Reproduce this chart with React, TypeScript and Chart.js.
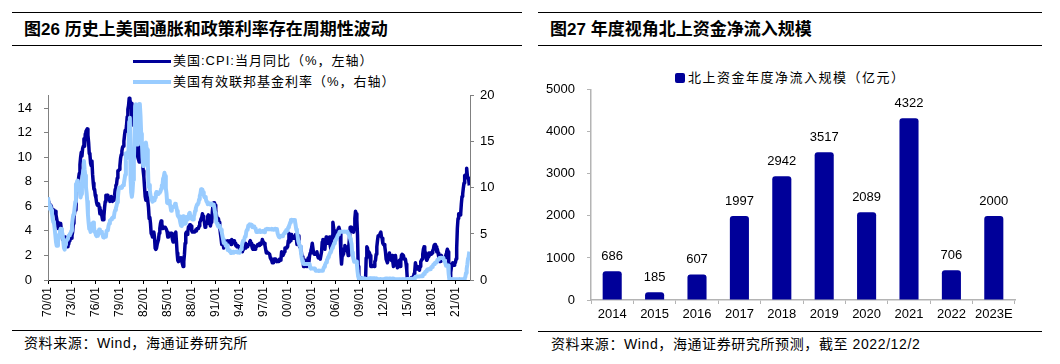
import React, { useEffect, useRef } from 'react';
import { Chart, registerables } from 'chart.js';

Chart.register(...registerables);

// ---------------- Left chart data (monthly, 1970/01 – 2022/10) ----------------
const cpi1970s = [
  6.2, 6.4, 6.1, 6.1, 6.1, 6.0, 6.0, 5.4, 5.7, 5.6, 5.6, 5.6,
  5.3, 5.0, 4.7, 4.2, 4.4, 4.6, 4.4, 4.6, 4.1, 3.8, 3.3, 3.3,
  3.3, 3.5, 3.5, 3.5, 3.2, 2.7, 2.9, 2.9, 3.2, 3.4, 3.4, 3.4,
  3.6, 3.9, 4.6, 5.1, 5.5, 6.0, 5.7, 7.4, 7.4, 7.8, 8.3, 8.7,
  9.4, 10.0, 10.4, 10.1, 10.7, 10.9, 11.5, 10.9, 11.9, 12.1, 12.2, 12.3,
  11.8, 11.2, 10.3, 10.2, 9.5, 9.3, 9.7, 8.6, 7.9, 7.4, 7.4, 6.9,
  6.7, 6.3, 6.1, 6.1, 6.2, 5.9, 5.4, 5.7, 5.5, 5.5, 4.9, 4.9,
  5.2, 5.9, 6.4, 6.9, 6.7, 6.9, 6.8, 6.6, 6.6, 6.4, 6.7, 6.8,
  6.8, 6.4, 6.6, 6.5, 6.9, 7.4, 7.7, 7.8, 8.3, 8.9, 8.9, 9.0,
  9.3, 9.9, 10.2, 10.5, 10.8, 10.9, 11.3, 11.8, 12.2, 12.1, 12.6, 13.3,
];
const cpi1980s = [
  13.9, 14.2, 14.8, 14.7, 14.4, 14.4, 13.1, 12.9, 12.6, 12.8, 12.6, 12.5,
  11.8, 11.4, 10.5, 10.0, 9.8, 9.6, 10.8, 10.8, 11.0, 10.1, 9.6, 8.9,
  8.4, 7.6, 6.8, 6.5, 6.7, 7.1, 6.4, 5.9, 5.0, 5.1, 4.6, 3.8,
  3.7, 3.5, 3.6, 3.9, 3.5, 2.6, 2.5, 2.6, 2.9, 2.9, 3.3, 3.8,
  4.2, 4.6, 4.8, 4.6, 4.2, 4.2, 4.2, 4.3, 4.3, 4.3, 4.1, 3.9,
  3.5, 3.5, 3.7, 3.7, 3.8, 3.8, 3.6, 3.3, 3.1, 3.2, 3.5, 3.8,
  3.9, 3.1, 2.2, 1.6, 1.5, 1.8, 1.6, 1.6, 1.8, 1.5, 1.3, 1.1,
  1.5, 2.1, 3.0, 3.8, 3.9, 3.7, 3.9, 4.3, 4.4, 4.5, 4.5, 4.4,
  4.0, 3.9, 3.9, 3.9, 3.9, 4.0, 4.1, 4.0, 4.2, 4.2, 4.2, 4.4,
  4.7, 4.8, 5.0, 5.1, 5.4, 5.2, 5.0, 4.7, 4.3, 4.5, 4.7, 4.6,
];
const cpi1990s = [
  5.2, 5.3, 5.2, 4.7, 4.4, 4.7, 4.8, 5.6, 6.2, 6.3, 6.3, 6.1,
  5.7, 5.3, 4.9, 4.9, 5.0, 4.7, 4.4, 3.8, 3.4, 2.9, 3.0, 3.1,
  2.6, 2.8, 3.2, 3.2, 3.0, 3.1, 3.2, 3.1, 3.0, 3.2, 3.0, 2.9,
  3.3, 3.2, 3.1, 3.2, 3.2, 3.0, 2.8, 2.8, 2.7, 2.8, 2.7, 2.7,
  2.5, 2.5, 2.5, 2.4, 2.3, 2.5, 2.8, 2.9, 3.0, 2.6, 2.7, 2.7,
  2.8, 2.9, 2.9, 3.1, 3.2, 3.0, 2.8, 2.6, 2.5, 2.8, 2.6, 2.5,
  2.7, 2.7, 2.8, 2.9, 2.9, 2.8, 3.0, 2.9, 3.0, 3.0, 3.3, 3.3,
  3.0, 3.0, 2.8, 2.5, 2.2, 2.3, 2.2, 2.2, 2.2, 2.1, 1.8, 1.7,
  1.6, 1.4, 1.4, 1.4, 1.7, 1.7, 1.7, 1.6, 1.5, 1.5, 1.5, 1.6,
  1.7, 1.6, 1.7, 2.3, 2.1, 2.0, 2.1, 2.3, 2.6, 2.6, 2.6, 2.7,
];
const cpi2000s = [
  2.7, 3.2, 3.8, 3.1, 3.2, 3.7, 3.7, 3.4, 3.5, 3.4, 3.4, 3.4,
  3.7, 3.5, 2.9, 3.3, 3.6, 3.2, 2.7, 2.7, 2.6, 2.1, 1.9, 1.6,
  1.1, 1.1, 1.5, 1.6, 1.2, 1.1, 1.5, 1.8, 1.5, 2.0, 2.2, 2.4,
  2.6, 3.0, 3.0, 2.2, 2.1, 2.1, 2.1, 2.2, 2.3, 2.0, 1.8, 1.9,
  1.9, 1.7, 1.7, 2.3, 3.1, 3.3, 3.0, 2.7, 2.5, 3.2, 3.5, 3.3,
  3.0, 3.0, 3.1, 3.5, 2.8, 2.5, 3.2, 3.6, 4.7, 4.3, 3.5, 3.4,
  4.0, 3.6, 3.4, 3.5, 4.2, 4.3, 4.1, 3.8, 2.1, 1.3, 2.0, 2.5,
  2.1, 2.4, 2.8, 2.6, 2.7, 2.7, 2.4, 2.0, 2.8, 3.5, 4.3, 4.1,
  4.3, 4.0, 4.0, 3.9, 4.2, 5.0, 5.6, 5.4, 4.9, 3.7, 1.1, 0.1,
  0.0, 0.2, -0.4, -0.7, -1.3, -1.4, -2.1, -1.5, -1.3, -0.2, 1.8, 2.7,
];
const cpi2010s = [
  2.6, 2.1, 2.3, 2.2, 2.0, 1.1, 1.2, 1.1, 1.1, 1.2, 1.1, 1.5,
  1.6, 2.1, 2.7, 3.2, 3.6, 3.6, 3.6, 3.8, 3.9, 3.5, 3.4, 3.0,
  2.9, 2.9, 2.7, 2.3, 1.7, 1.7, 1.4, 1.7, 2.0, 2.2, 1.8, 1.7,
  1.6, 2.0, 1.5, 1.1, 1.4, 1.8, 2.0, 1.5, 1.2, 1.0, 1.2, 1.5,
  1.6, 1.1, 1.5, 2.0, 2.1, 2.1, 2.0, 1.7, 1.7, 1.7, 1.3, 0.8,
  -0.1, 0.0, -0.1, -0.2, 0.0, 0.1, 0.2, 0.2, 0.0, 0.2, 0.5, 0.7,
  1.4, 1.0, 0.9, 1.1, 1.0, 1.0, 0.8, 1.1, 1.5, 1.6, 1.7, 2.1,
  2.5, 2.7, 2.4, 2.2, 1.9, 1.6, 1.7, 1.9, 2.2, 2.0, 2.2, 2.1,
  2.1, 2.2, 2.4, 2.5, 2.8, 2.9, 2.9, 2.7, 2.3, 2.5, 2.2, 1.9,
  1.6, 1.5, 1.9, 2.0, 1.8, 1.6, 1.8, 1.7, 1.7, 1.8, 2.1, 2.3,
];
const cpi2020s = [
  2.5, 2.3, 1.5, 0.3, 0.1, 0.6, 1.0, 1.3, 1.4, 1.2, 1.2, 1.4,
  1.4, 1.7, 2.6, 4.2, 5.0, 5.4, 5.4, 5.3, 5.4, 6.2, 6.8, 7.0,
  7.5, 7.9, 8.5, 8.3, 8.6, 9.1, 8.5, 8.3, 8.2, 7.7,
];

const ffr1970s = [
  8.98, 8.98, 7.76, 8.10, 7.94, 7.60, 7.21, 6.61, 6.29, 6.20, 5.60, 4.90,
  4.14, 3.72, 3.71, 4.16, 4.63, 4.91, 5.31, 5.56, 5.55, 5.20, 4.91, 4.14,
  3.50, 3.29, 3.83, 4.17, 4.27, 4.46, 4.55, 4.80, 4.87, 5.04, 5.06, 5.33,
  5.94, 6.58, 7.09, 7.12, 7.84, 8.49, 10.40, 10.50, 10.78, 10.01, 10.03, 9.95,
  9.65, 8.97, 9.35, 10.51, 11.31, 11.93, 12.92, 12.01, 11.34, 10.06, 9.45, 8.53,
  7.13, 6.24, 5.54, 5.49, 5.22, 5.55, 6.10, 6.14, 6.24, 5.82, 5.22, 5.20,
  4.87, 4.77, 4.84, 4.82, 5.29, 5.48, 5.31, 5.29, 5.25, 5.02, 4.95, 4.65,
  4.61, 4.68, 4.69, 4.73, 5.35, 5.39, 5.42, 5.90, 6.14, 6.47, 6.51, 6.56,
  6.70, 6.78, 6.79, 6.89, 7.36, 7.60, 7.81, 8.04, 8.45, 8.96, 9.76, 10.03,
  10.07, 10.06, 10.09, 10.01, 10.24, 10.29, 10.47, 10.94, 11.43, 13.77, 13.18, 13.78,
];
const ffr1980s = [
  13.82, 14.13, 17.19, 17.61, 10.98, 9.47, 9.03, 9.61, 10.87, 12.81, 15.85, 18.90,
  19.08, 15.93, 14.70, 15.72, 18.52, 19.10, 19.04, 17.82, 15.87, 15.08, 13.31, 12.37,
  13.22, 14.78, 14.68, 14.94, 14.45, 14.15, 12.59, 10.12, 10.31, 9.71, 9.20, 8.95,
  8.68, 8.51, 8.77, 8.80, 8.63, 8.98, 9.37, 9.56, 9.45, 9.48, 9.34, 9.47,
  9.56, 9.59, 9.91, 10.29, 10.32, 11.06, 11.23, 11.64, 11.30, 9.99, 9.43, 8.38,
  8.35, 8.50, 8.58, 8.27, 7.97, 7.53, 7.88, 7.90, 7.92, 7.99, 8.05, 8.27,
  8.14, 7.86, 7.48, 6.99, 6.85, 6.92, 6.56, 6.17, 5.89, 5.85, 6.04, 6.91,
  6.43, 6.10, 6.13, 6.37, 6.85, 6.73, 6.58, 6.73, 7.22, 7.29, 6.69, 6.77,
  6.83, 6.58, 6.58, 6.87, 7.09, 7.51, 7.75, 8.01, 8.19, 8.30, 8.35, 8.76,
  9.12, 9.36, 9.85, 9.84, 9.81, 9.53, 9.24, 8.99, 9.02, 8.84, 8.55, 8.45,
];
const ffr1990s = [
  8.23, 8.24, 8.28, 8.26, 8.18, 8.29, 8.15, 8.13, 8.20, 8.11, 7.81, 7.31,
  6.91, 6.25, 6.12, 5.91, 5.78, 5.90, 5.82, 5.66, 5.45, 5.21, 4.81, 4.43,
  4.03, 4.06, 3.98, 3.73, 3.82, 3.76, 3.25, 3.30, 3.22, 3.10, 3.09, 2.92,
  3.02, 3.03, 3.07, 2.96, 3.00, 3.04, 3.06, 3.03, 3.09, 2.99, 3.02, 2.96,
  3.05, 3.25, 3.34, 3.56, 4.01, 4.25, 4.26, 4.47, 4.73, 4.76, 5.29, 5.45,
  5.53, 5.92, 5.98, 6.05, 6.01, 6.00, 5.85, 5.74, 5.80, 5.76, 5.80, 5.60,
  5.56, 5.22, 5.31, 5.22, 5.24, 5.27, 5.40, 5.22, 5.30, 5.24, 5.31, 5.29,
  5.25, 5.19, 5.39, 5.51, 5.50, 5.56, 5.52, 5.54, 5.54, 5.50, 5.52, 5.50,
  5.56, 5.51, 5.49, 5.45, 5.49, 5.56, 5.54, 5.55, 5.51, 5.07, 4.83, 4.68,
  4.63, 4.76, 4.81, 4.74, 4.74, 4.76, 4.99, 5.07, 5.22, 5.20, 5.42, 5.30,
];
const ffr2000s = [
  5.45, 5.73, 5.85, 6.02, 6.27, 6.53, 6.54, 6.50, 6.52, 6.51, 6.51, 6.40,
  5.98, 5.49, 5.31, 4.80, 4.21, 3.97, 3.77, 3.65, 3.07, 2.49, 2.09, 1.82,
  1.73, 1.74, 1.73, 1.75, 1.75, 1.75, 1.73, 1.74, 1.75, 1.75, 1.34, 1.24,
  1.24, 1.26, 1.25, 1.26, 1.26, 1.22, 1.01, 1.03, 1.01, 1.01, 1.00, 0.98,
  1.00, 1.01, 1.00, 1.00, 1.00, 1.03, 1.26, 1.43, 1.61, 1.76, 1.93, 2.16,
  2.28, 2.50, 2.63, 2.79, 3.00, 3.04, 3.26, 3.50, 3.62, 3.78, 4.00, 4.16,
  4.29, 4.49, 4.59, 4.79, 4.94, 4.99, 5.24, 5.25, 5.25, 5.25, 5.25, 5.24,
  5.25, 5.26, 5.26, 5.25, 5.25, 5.25, 5.26, 5.02, 4.94, 4.76, 4.49, 4.24,
  3.94, 2.98, 2.61, 2.28, 1.98, 2.00, 2.01, 2.00, 1.81, 0.97, 0.39, 0.16,
  0.15, 0.22, 0.18, 0.15, 0.18, 0.21, 0.16, 0.16, 0.15, 0.12, 0.12, 0.12,
];
const ffr2010s = [
  0.11, 0.13, 0.16, 0.20, 0.20, 0.18, 0.18, 0.19, 0.19, 0.19, 0.19, 0.18,
  0.17, 0.16, 0.14, 0.10, 0.09, 0.09, 0.07, 0.10, 0.08, 0.07, 0.08, 0.07,
  0.08, 0.10, 0.13, 0.14, 0.16, 0.16, 0.16, 0.13, 0.14, 0.16, 0.16, 0.16,
  0.14, 0.15, 0.14, 0.15, 0.11, 0.09, 0.09, 0.08, 0.08, 0.09, 0.08, 0.09,
  0.07, 0.07, 0.08, 0.09, 0.09, 0.10, 0.09, 0.09, 0.09, 0.09, 0.09, 0.12,
  0.11, 0.11, 0.11, 0.12, 0.12, 0.13, 0.13, 0.14, 0.14, 0.12, 0.12, 0.24,
  0.34, 0.38, 0.36, 0.37, 0.37, 0.38, 0.39, 0.40, 0.40, 0.40, 0.41, 0.54,
  0.65, 0.66, 0.79, 0.90, 0.91, 1.04, 1.15, 1.16, 1.15, 1.15, 1.16, 1.30,
  1.41, 1.42, 1.51, 1.69, 1.70, 1.82, 1.91, 1.91, 1.95, 2.19, 2.20, 2.27,
  2.40, 2.40, 2.41, 2.42, 2.39, 2.38, 2.40, 2.13, 2.04, 1.83, 1.55, 1.55,
];
const ffr2020s = [
  1.55, 1.58, 0.65, 0.05, 0.05, 0.08, 0.09, 0.10, 0.09, 0.09, 0.09, 0.09,
  0.09, 0.08, 0.07, 0.07, 0.06, 0.08, 0.10, 0.09, 0.08, 0.08, 0.08, 0.08,
  0.08, 0.08, 0.20, 0.33, 0.77, 1.21, 1.68, 2.33, 2.56, 3.08,
];

const cpiLabel = '美国:CPI:当月同比（%，左轴）';
const ffrLabel = '美国有效联邦基金利率（%，右轴）';
const xTickLabels = [
  '70/01', '73/01', '76/01', '79/01', '82/01', '85/01', '88/01', '91/01', '94/01',
  '97/01', '00/01', '03/01', '06/01', '09/01', '12/01', '15/01', '18/01', '21/01',
];
const leftTicks = [0, 2, 4, 6, 8, 10, 12, 14];

// ---------------- Right chart data ----------------
const flowYears = ['2014', '2015', '2016', '2017', '2018', '2019', '2020', '2021', '2022', '2023E'];
const flowValues = [686, 185, 607, 1997, 2942, 3517, 2089, 4322, 706, 2000];
const flowLabel = '北上资金年度净流入规模（亿元）';

const NAVY = '#000099';
const LIGHT = '#99CCFF';
const NUM_FONT = "'Liberation Sans', Arial, sans-serif";
const CJK_FONT = "'Liberation Sans', 'Noto Sans CJK SC', sans-serif";

const cpi = [...cpi1970s, ...cpi1980s, ...cpi1990s, ...cpi2000s, ...cpi2010s, ...cpi2020s];
const ffr = [...ffr1970s, ...ffr1980s, ...ffr1990s, ...ffr2000s, ...ffr2010s, ...ffr2020s];

function LeftChart() {
  const ref = useRef<HTMLCanvasElement>(null);
  useEffect(() => {
    if (!ref.current) return;
    const chart = new Chart(ref.current, {
      type: 'line',
      data: {
        datasets: [
          {
            label: cpiLabel,
            data: cpi.map((v, i) => ({ x: i, y: v })),
            yAxisID: 'y',
            borderColor: NAVY,
            backgroundColor: NAVY,
            borderWidth: 3.5,
            pointRadius: 0,
            borderJoinStyle: 'round',
            order: 1,
          },
          {
            label: ffrLabel,
            data: ffr.map((v, i) => ({ x: i, y: v })),
            yAxisID: 'y1',
            borderColor: LIGHT,
            backgroundColor: LIGHT,
            borderWidth: 4,
            pointRadius: 0,
            borderJoinStyle: 'round',
            order: 0,
          },
        ],
      },
      options: {
        responsive: false,
        animation: false,
        layout: { padding: { top: 14, left: 0, right: 0, bottom: 0 } },
        plugins: { legend: { display: false }, tooltip: { enabled: false } },
        scales: {
          x: {
            type: 'linear',
            min: 0,
            max: 634,
            afterBuildTicks: (s: any) => {
              s.ticks = xTickLabels.map((_, i) => ({ value: i * 36 }));
            },
            afterFit: (s: any) => {
              s.height = 50;
            },
            ticks: {
              autoSkip: false,
              minRotation: 90,
              maxRotation: 90,
              padding: 3,
              color: '#000',
              font: { family: NUM_FONT, size: 12 },
              callback: (_v: any, i: number) => xTickLabels[i],
            },
            grid: { drawOnChartArea: false, drawTicks: true, tickLength: 4, color: '#000' },
            border: { color: '#000', width: 1 },
          },
          y: {
            position: 'left',
            min: 0,
            max: 15,
            afterBuildTicks: (s: any) => {
              s.ticks = leftTicks.map((v) => ({ value: v }));
            },
            afterFit: (s: any) => {
              s.width = 48;
            },
            ticks: { padding: 12, color: '#000', font: { family: NUM_FONT, size: 13 } },
            grid: { drawOnChartArea: false, drawTicks: true, tickLength: 4, color: '#808080' },
            border: { color: '#808080', width: 1 },
          },
          y1: {
            position: 'right',
            min: 0,
            max: 20,
            ticks: { stepSize: 5, padding: 6, color: '#000', font: { family: NUM_FONT, size: 13 } },
            afterFit: (s: any) => {
              s.width = 60;
            },
            grid: { drawOnChartArea: false, drawTicks: true, tickLength: 4, color: '#808080' },
            border: { color: '#808080', width: 1 },
          },
        },
      },
    });
    return () => chart.destroy();
  }, []);
  return (
    <canvas
      ref={ref}
      width={530}
      height={254}
      style={{ position: 'absolute', left: 0, top: 76, width: 530, height: 254 }}
    />
  );
}

const barLabelPlugin = {
  id: 'barLabels',
  afterDatasetsDraw(chart: any) {
    const { ctx } = chart;
    const meta = chart.getDatasetMeta(0);
    ctx.save();
    ctx.font = `13px ${NUM_FONT}`;
    ctx.fillStyle = '#000';
    ctx.textAlign = 'center';
    ctx.textBaseline = 'alphabetic';
    meta.data.forEach((el: any, i: number) => {
      ctx.fillText(String(flowValues[i]), el.x, el.y - 11);
    });
    ctx.restore();
  },
};

function RightChart() {
  const ref = useRef<HTMLCanvasElement>(null);
  useEffect(() => {
    if (!ref.current) return;
    const chart = new Chart(ref.current, {
      type: 'bar',
      data: {
        labels: flowYears,
        datasets: [
          {
            label: flowLabel,
            data: flowValues,
            backgroundColor: NAVY,
            borderRadius: 3,
            categoryPercentage: 1,
            barPercentage: 0.45,
          },
        ],
      },
      options: {
        responsive: false,
        animation: false,
        layout: { padding: { top: 16, left: 0, right: 45, bottom: 0 } },
        plugins: { legend: { display: false }, tooltip: { enabled: false } },
        scales: {
          x: {
            offset: true,
            afterFit: (s: any) => {
              s.height = 30;
            },
            ticks: { padding: 3, color: '#000', font: { family: NUM_FONT, size: 13 }, maxRotation: 0 },
            grid: { offset: true, drawOnChartArea: false, drawTicks: true, tickLength: 4, color: '#b4b4b4' },
            border: { color: '#b4b4b4', width: 1.5 },
          },
          y: {
            min: 0,
            max: 5000,
            ticks: {
              stepSize: 1000,
              padding: 12,
              color: '#000',
              font: { family: NUM_FONT, size: 13 },
              callback: (v: any) => String(v),
            },
            afterFit: (s: any) => {
              s.width = 61;
            },
            grid: { drawOnChartArea: false, drawTicks: true, tickLength: 4, color: '#b4b4b4' },
            border: { color: '#b4b4b4', width: 1.5 },
          },
        },
      },
      plugins: [barLabelPlugin],
    });
    return () => chart.destroy();
  }, []);
  return (
    <canvas
      ref={ref}
      width={530}
      height={260}
      style={{ position: 'absolute', left: 530, top: 70, width: 530, height: 260 }}
    />
  );
}

const hLine = (left: number, top: number, width: number): React.CSSProperties => ({
  position: 'absolute',
  left,
  top,
  width,
  height: 1,
  background: '#000',
});

const textStyle = (
  left: number,
  top: number,
  size: number,
  bold = false,
  spacing = 0,
): React.CSSProperties => ({
  position: 'absolute',
  left,
  top,
  fontFamily: CJK_FONT,
  fontSize: size,
  fontWeight: bold ? 700 : 400,
  letterSpacing: spacing,
  lineHeight: '20px',
  whiteSpace: 'nowrap',
  color: '#000',
});

export default function App() {
  return (
    <div
      style={{
        position: 'fixed',
        left: 0,
        top: 0,
        width: 1060,
        height: 364,
        background: '#fff',
        overflow: 'hidden',
      }}
    >
      {/* Left panel */}
      <div style={hLine(12, 12, 510)} />
      <div style={textStyle(24, 20, 17, true)}>图26 历史上美国通胀和政策利率存在周期性波动</div>
      <div style={hLine(12, 45, 510)} />
      <div style={{ position: 'absolute', left: 133, top: 60, width: 38, height: 3, background: NAVY }} />
      <div style={textStyle(173, 51, 13, false, 1)}>{cpiLabel}</div>
      <div style={{ position: 'absolute', left: 133, top: 80, width: 38, height: 4, background: LIGHT }} />
      <div style={textStyle(173, 72, 13, false, 1)}>{ffrLabel}</div>
      <LeftChart />
      <div style={hLine(12, 330, 510)} />
      <div style={textStyle(24, 333, 14, false, 0.6)}>资料来源：Wind，海通证券研究所</div>

      {/* Right panel */}
      <div style={hLine(538, 12, 504)} />
      <div style={textStyle(550, 20, 17, true)}>图27 年度视角北上资金净流入规模</div>
      <div style={hLine(538, 45, 504)} />
      <div style={{ position: 'absolute', left: 675, top: 73, width: 10, height: 10, borderRadius: 2, background: NAVY }} />
      <div style={textStyle(688, 68, 13, false, 1.5)}>{flowLabel}</div>
      <RightChart />
      <div style={hLine(538, 331, 504)} />
      <div style={textStyle(551, 334, 14, false, 0.6)}>资料来源：Wind，海通证券研究所预测，截至 2022/12/2</div>
    </div>
  );
}
